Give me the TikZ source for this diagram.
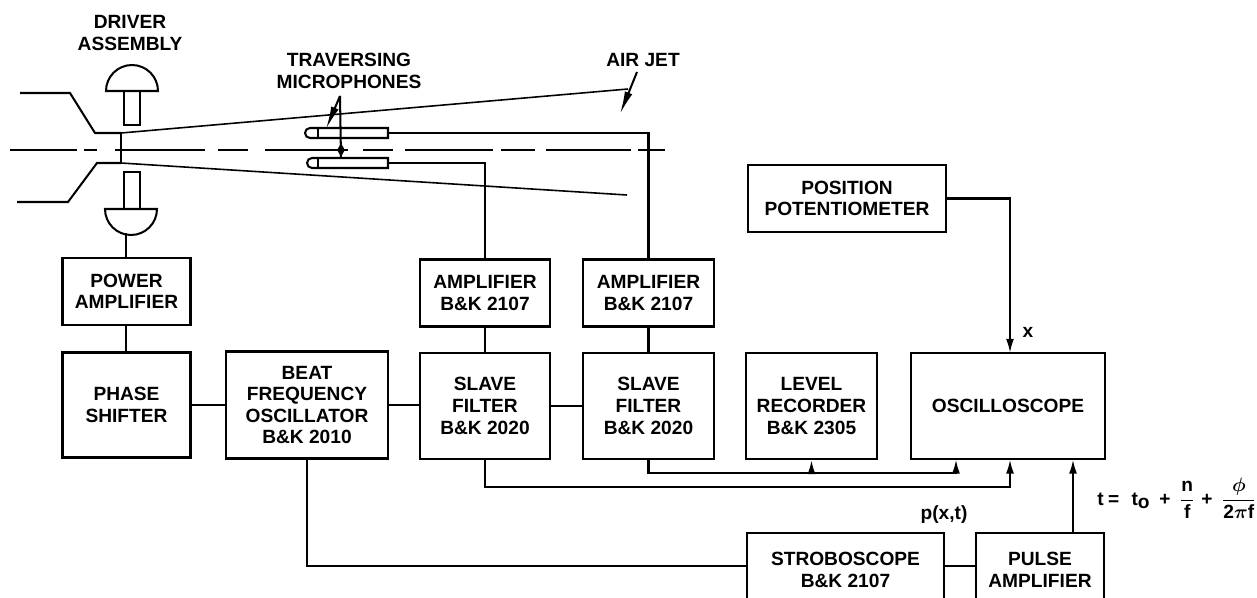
\documentclass[tikz,border=0pt]{standalone}
\usepackage{amsmath}
\usepackage{fontspec}
\setmainfont{Liberation Sans}
\usetikzlibrary{arrows.meta,positioning}
\tikzset{
  blockbox/.style={draw, line width=1.2pt, align=center, inner sep=0pt,
    font=\fontsize{10.9}{12.3}\selectfont\bfseries},
  tag/.style={align=center, inner sep=0pt, font=\fontsize{10.9}{12.3}\selectfont\bfseries},
  wire/.style={line width=1.15pt},
  thin wire/.style={line width=0.9pt},
  tipwire/.style={line width=1.15pt, -{Latex[length=8pt,width=4.5pt]}},
  longtip/.style={line width=1.15pt, -{Latex[length=13pt,width=4.5pt]}}
}
\begin{document}
\begin{tikzpicture}[x=0.02cm, y=-0.02cm]
  \clip (0,0) rectangle (1257,598);
  \fill[white] (0,0) rectangle (1257,598);

  % nozzle and jet
  \draw[wire] (20,93) -- (70,93) -- (95,133) -- (121,133);
  \draw[wire] (17,202) -- (68,202) -- (97,163) -- (121,163);
  \draw[wire] (121,133) -- (121,163);
  \draw[thin wire] (121,133) -- (628,89);
  \draw[thin wire] (121,163) -- (627,195);
  \foreach \a/\b in {10/77,84/97,115/205,218/248,265/348,363/393,405/493,501/535,546/631,638/665}
    \draw[thin wire] (\a,150) -- (\b,150);

  % driver assembly
  \draw[wire] (106,91) arc[start angle=180, end angle=0, radius=0.52cm] -- cycle;
  \draw[wire] (124,91) -- (124,125) -- (140,125) -- (140,91);
  \draw[wire] (105,209) arc[start angle=180, end angle=360, radius=0.52cm] -- cycle;
  \draw[wire] (124,209) -- (124,172) -- (140,172) -- (140,209);
  \node[tag] (driver) at (130,33) {DRIVER\\ASSEMBLY};

  % microphones
  \draw[wire] (388,128) -- (310,128) arc[start angle=90, end angle=270, radius=0.1cm] -- (388,138) -- cycle;
  \draw[wire] (318,128) -- (318,138);
  \draw[wire] (388,158) -- (312,158) arc[start angle=90, end angle=270, radius=0.1cm] -- (388,168) -- cycle;
  \draw[wire] (318,158) -- (318,168);
  \coordinate (mictop) at (340,96);
  \coordinate (micup) at (326,129);
  \coordinate (midstem) at (341,158);
  \coordinate (midarrow) at (341,142);
  \draw[longtip] (mictop) -- (micup);
  \draw[wire] (mictop) -- (midstem);
  \draw[wire, {Latex[length=4pt,width=4pt]}-{Latex[length=4pt,width=4pt]}] (midarrow) -- (midstem);
  \node[tag] (mics) at (349,71) {TRAVERSING\\MICROPHONES};

  % air jet label
  \coordinate (jettop) at (637,72);
  \coordinate (jetend) at (620,114);
  \draw[longtip] (jettop) -- (jetend);
  \node[tag] (airjet) at (643,60) {AIR JET};

  % blocks
  \node[blockbox, minimum width=2.56cm, minimum height=1.34cm] (poweramp) at (126.5,291.5) {POWER\\AMPLIFIER};
  \node[blockbox, minimum width=2.56cm, minimum height=2.1cm] (phase) at (126.5,405) {PHASE\\SHIFTER};
  \node[blockbox, minimum width=3.24cm, minimum height=2.14cm] (beat) at (307,405) {BEAT\\FREQUENCY\\OSCILLATOR\\B\&K 2010};
  \node[blockbox, minimum width=2.6cm, minimum height=1.34cm] (amp1) at (485,293) {AMPLIFIER\\B\&K 2107};
  \node[blockbox, minimum width=2.62cm, minimum height=1.34cm] (amp2) at (648.5,293) {AMPLIFIER\\B\&K 2107};
  \node[blockbox, minimum width=2.6cm, minimum height=2.12cm] (slave1) at (485,406) {SLAVE\\FILTER\\B\&K 2020};
  \node[blockbox, minimum width=2.62cm, minimum height=2.12cm] (slave2) at (648.5,406) {SLAVE\\FILTER\\B\&K 2020};
  \node[blockbox, minimum width=2.62cm, minimum height=2.12cm] (level) at (811.5,406) {LEVEL\\RECORDER\\B\&K 2305};
  \node[blockbox, minimum width=3.88cm, minimum height=2.12cm] (osc) at (1008,406) {OSCILLOSCOPE};
  \node[blockbox, minimum width=3.96cm, minimum height=1.34cm] (pot) at (847,198.5) {POSITION\\POTENTIOMETER};
  \node[blockbox, minimum width=3.94cm, minimum height=1.48cm] (strobo) at (845.5,570) {STROBOSCOPE\\B\&K 2107};
  \node[blockbox, minimum width=2.56cm, minimum height=1.48cm] (pulse) at (1040,570) {PULSE\\AMPLIFIER};

  % connections
  \draw[wire] (126,258) -- (126,233);
  \draw[wire] (phase.north -| 126,0) -- (poweramp.south -| 126,0);
  \draw[wire] (phase.east) -- (beat.west);
  \draw[wire] (beat.east) -- (beat.east -| slave1.west);
  \draw[wire] (slave1) -- (slave2);
  \draw[wire] (slave1) -- (amp1);
  \draw[wire] (slave2) -- (amp2);
  \draw[wire] (amp1.north) -- (485,163) -- (388,163);
  \draw[wire] (amp2.north) -- (648.5,133) -- (388,133);
  \draw[tipwire] (slave2.south) |- (956,473) -- (956,459.5);
  \draw[tipwire] (811.5,473) -- (level.south);
  \draw[tipwire] (slave1.south) |- (1010,487) -- (1010,459.5);
  \draw[tipwire] (pot.east) -| (1010,353);
  \draw[tipwire] (1073,533) -- (1073,459.5);
  \draw[wire] (strobo.east |- 0,566) -- (pulse.west |- 0,566);
  \draw[wire] (beat.south) |- (strobo.west |- 0,566);

  % labels
  \node[tag] (xlabel) at (1028,332) {x};
  \node[tag] (plabel) at (944,515) {p(x,t)};
  \node[tag, anchor=base west] (formula) at (1097,505) {t\hspace{2.5pt}=\hspace{7pt}t\raisebox{-2pt}{o}\hspace{5.5pt}+\hspace{5pt}$\dfrac{\text{n}}{\text{f}}$\hspace{3.5pt}+\hspace{5pt}$\dfrac{\boldsymbol{\phi}}{\text{2}\boldsymbol{\pi}\text{f}}$};
\end{tikzpicture}
\end{document}
